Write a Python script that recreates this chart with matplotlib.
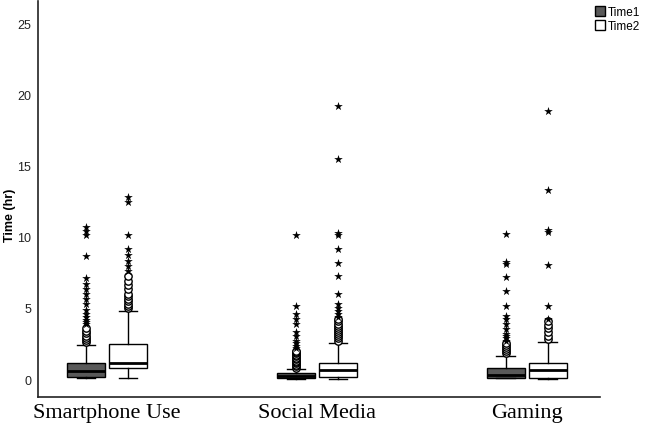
import matplotlib
matplotlib.use("Agg")
import matplotlib.pyplot as plt
from matplotlib.patches import Patch

# -- data -------------------------------------------------------------------
categories = ["Smartphone Use", "Social Media", "Gaming"]
series = ["Time1", "Time2"]

# box stats per category: [whislo, q1, med, q3, whishi]
stats_t1 = [[0.08, 0.15, 0.55, 1.12, 2.40],
            [0.02, 0.08, 0.20, 0.42, 0.70],
            [0.05, 0.10, 0.30, 0.77, 1.64]]
stats_t2 = [[0.10, 0.77, 1.12, 2.43, 4.80],
            [0.03, 0.16, 0.60, 1.15, 2.55],
            [0.03, 0.10, 0.60, 1.12, 2.62]]

# outliers (circles) and extremes (stars)
circles_t1 = [[2.6, 2.75, 2.9, 3.05, 3.2, 3.4, 3.6],
              [0.8, 0.9, 1.0, 1.1, 1.2, 1.3, 1.4, 1.5, 1.6, 1.7, 1.8, 1.9, 2.0],
              [1.8, 1.95, 2.1, 2.25, 2.4, 2.55]]
stars_t1 = [[3.85, 4.0, 4.15, 4.35, 4.55, 4.85, 5.25, 5.6, 5.95, 6.3, 6.65, 7.1, 8.65, 10.1, 10.4, 10.7],
            [2.2, 2.35, 2.5, 2.7, 3.0, 3.3, 3.85, 4.2, 4.55, 5.15, 10.1],
            [2.7, 2.85, 3.0, 3.15, 3.5, 3.85, 4.2, 4.45, 5.15, 6.2, 7.15, 8.1, 8.25, 10.2]]
circles_t2 = [[5.0, 5.15, 5.3, 5.45, 5.6, 5.8, 6.0, 6.3, 6.6, 6.9, 7.25],
              [2.7, 2.85, 3.0, 3.15, 3.3, 3.45, 3.6, 3.75, 3.9, 4.05, 4.2],
              [2.8, 3.05, 3.3, 3.55, 3.8, 4.05]]
stars_t2 = [[7.6, 7.95, 8.3, 8.7, 9.1, 10.1, 12.4, 12.75],
            [4.35, 4.55, 4.8, 5.0, 5.3, 5.95, 7.25, 8.15, 9.15, 10.1, 10.25, 15.45, 19.2],
            [4.25, 5.1, 8.0, 10.3, 10.45, 13.3, 18.85]]

yticks = [0, 5, 10, 15, 20, 25]

# -- plot -------------------------------------------------------------------
fig = plt.figure(figsize=(6.47, 4.31), dpi=100, facecolor="white")
ax = fig.add_axes([0.0587, 0.0766, 0.8686, 0.9188])

dark = "#595959"
offset = 0.1
width = 0.18


def to_bxp(rows):
    return [dict(whislo=r[0], q1=r[1], med=r[2], q3=r[3], whishi=r[4], fliers=[])
            for r in rows]


for rows, circ, star, dx, fc in [(stats_t1, circles_t1, stars_t1, -offset, dark),
                                 (stats_t2, circles_t2, stars_t2, offset, "white")]:
    pos = [i + dx for i in range(len(categories))]
    ax.bxp(to_bxp(rows), positions=pos, widths=width, capwidths=0.09,
           patch_artist=True, showfliers=False,
           boxprops=dict(facecolor=fc, edgecolor="black", linewidth=1),
           medianprops=dict(color="black", linewidth=2),
           whiskerprops=dict(color="black", linewidth=1),
           capprops=dict(color="black", linewidth=1))
    for p, c, s in zip(pos, circ, star):
        ax.scatter([p] * len(c), c, marker="o", s=28, facecolors="white",
                   edgecolors="black", linewidths=1.0, zorder=3)
        ax.scatter([p] * len(s), s, marker="*", s=42, color="black",
                   linewidths=0, zorder=3)

ax.set_xlim(-0.329, 2.348)
ax.set_ylim(-1.26, 26.55)
ax.set_xticks(range(len(categories)))
ax.set_xticklabels(categories, family="Liberation Serif", fontsize=16)
ax.set_yticks(yticks)
ax.set_yticklabels([str(t) for t in yticks], family="Liberation Sans", fontsize=9,
                   color="#222222")
ax.tick_params(axis="both", length=0)
ax.tick_params(axis="y", pad=5)
ax.tick_params(axis="x", pad=4)

fig.text(0.015, 0.5, "Time (hr)", family="Liberation Sans", fontsize=9,
         weight="bold", rotation=90, ha="center", va="center")

for side in ["top", "right"]:
    ax.spines[side].set_visible(False)
for side in ["left", "bottom"]:
    ax.spines[side].set_linewidth(1.2)
    ax.spines[side].set_color("#222222")

handles = [Patch(facecolor=dark, edgecolor="black", label=series[0]),
           Patch(facecolor="white", edgecolor="black", label=series[1])]
fig.legend(handles=handles, loc="upper right", bbox_to_anchor=(1.0, 1.0),
           frameon=False, handlelength=0.9, handleheight=0.9,
           handletextpad=0.2, labelspacing=0.15, borderaxespad=0.2,
           prop=dict(family="Liberation Sans", size=8.5))

fig.savefig("out.png", dpi=100)
